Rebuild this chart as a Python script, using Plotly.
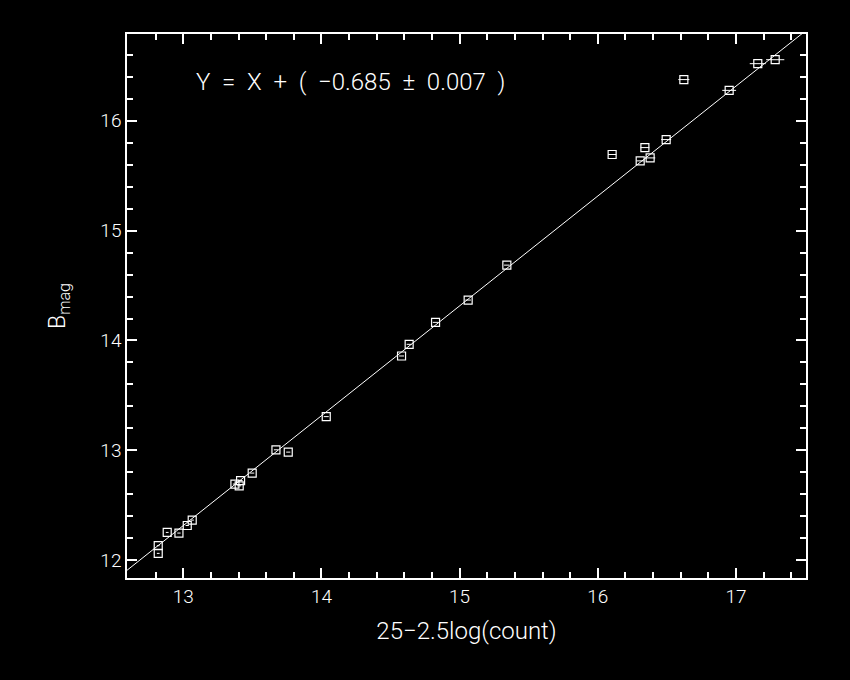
import plotly.graph_objects as go

# Measured data (x = 25-2.5log(count), y = B_mag)
x_inst = [12.819, 12.819, 12.884, 12.969, 13.029, 13.065, 13.374, 13.405, 13.415,
          13.499, 13.671, 13.760, 14.035, 14.580, 14.635, 14.826, 15.062, 15.342,
          16.104, 16.307, 16.341, 16.379, 16.495, 16.623, 16.951, 17.158, 17.284]
b_mag = [12.132, 12.062, 12.253, 12.247, 12.316, 12.365, 12.693, 12.677, 12.725,
         12.793, 13.005, 12.984, 13.307, 13.859, 13.965, 14.165, 14.368, 14.686,
         15.693, 15.635, 15.756, 15.662, 15.829, 16.375, 16.277, 16.520, 16.556]
x_err = [0.010, 0.010, 0.010, 0.012, 0.012, 0.012, 0.015, 0.015, 0.015,
         0.015, 0.015, 0.015, 0.018, 0.018, 0.018, 0.020, 0.020, 0.020,
         0.030, 0.027, 0.032, 0.037, 0.036, 0.040, 0.050, 0.058, 0.066]

fit_intercept = -0.685
x_range = [12.593, 17.507]
y_range = [11.838, 16.79]

fit_x = x_range
fit_y = [v + fit_intercept for v in fit_x]

fig = go.Figure()
fig.add_trace(go.Scatter(
    x=fit_x, y=fit_y, mode="lines",
    line=dict(color="white", width=1), showlegend=False, hoverinfo="skip"))
fig.add_trace(go.Scatter(
    x=x_inst, y=b_mag, mode="markers",
    marker=dict(symbol="square-open", size=8, color="white", line=dict(width=1.2)),
    error_x=dict(type="data", array=x_err, color="white", thickness=1, width=0),
    showlegend=False))

font_fam = "Roboto, DejaVu Sans, sans-serif"
axis_common = dict(
    showgrid=False, zeroline=False, showline=True, linecolor="white", linewidth=1.5,
    mirror="allticks", ticks="inside", ticklen=10, tickwidth=1.5, tickcolor="white",
    tickfont=dict(family=font_fam, size=19, color="white", weight=300),
)
minor_common = dict(dtick=0.2, ticks="inside", ticklen=6, tickcolor="white", tickwidth=1.5, showgrid=False)
fig.update_xaxes(range=x_range, dtick=1, tick0=13, minor=minor_common,
                 title=dict(text="25\u22122.5log(count)", font=dict(family=font_fam, size=24, color="white", weight=300), standoff=16),
                 **axis_common)
fig.update_yaxes(range=y_range, dtick=1, tick0=12, minor=minor_common,
                 title=dict(text="B<sub>mag</sub>", font=dict(family=font_fam, size=23, color="white", weight=300), standoff=28),
                 **axis_common)

sp = "\u00a0\u00a0"
eq_text = sp.join(["Y", "=", "X", "+", "(", "\u22120.685", "\u00b1", "0.007", ")"])
fig.add_annotation(
    xref="paper", yref="paper", x=0.098, y=0.912, xanchor="left", yanchor="middle",
    text=eq_text, showarrow=False,
    font=dict(family=font_fam, size=24, color="white", weight=300))

fig.update_layout(
    width=850, height=680,
    paper_bgcolor="black", plot_bgcolor="black",
    margin=dict(l=127, r=44, t=34, b=102),
)

fig.write_html("out.html", config={"displayModeBar": False},
               post_script="document.body.style.margin='0';document.body.style.background='black';")
